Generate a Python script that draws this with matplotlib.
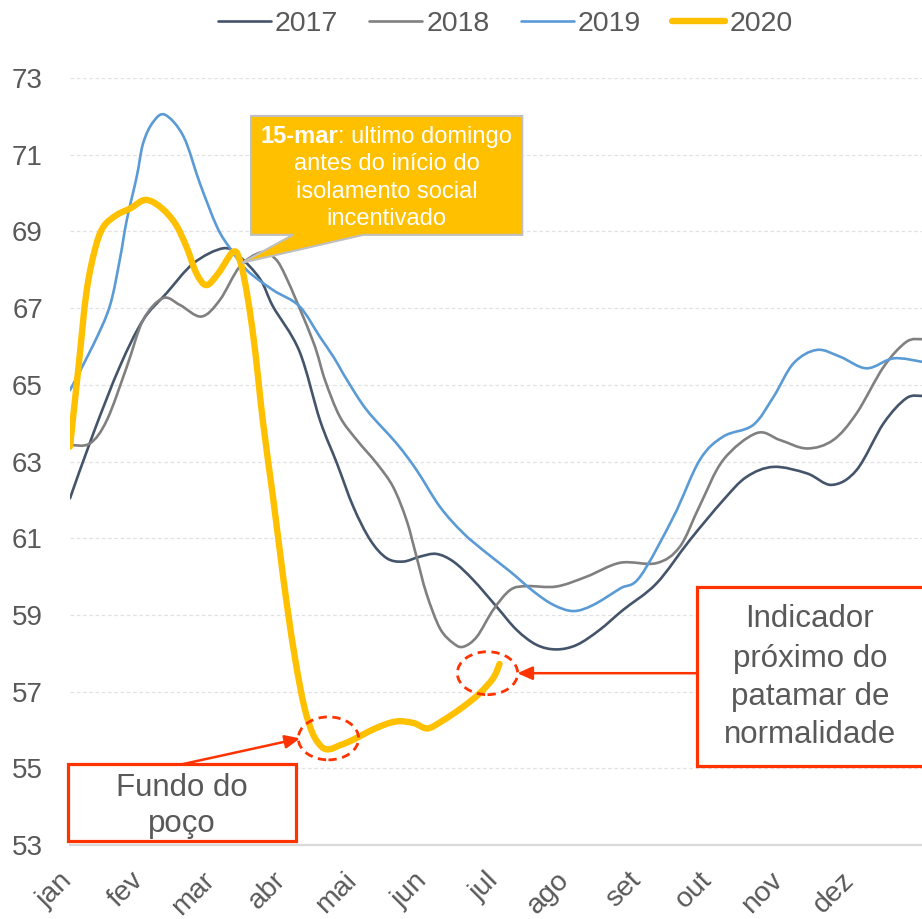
import matplotlib
matplotlib.use("Agg")
import matplotlib.pyplot as plt
import matplotlib.transforms as mtransforms
from matplotlib.patches import Polygon, Rectangle, Ellipse, PathPatch
from matplotlib.path import Path
from matplotlib.lines import Line2D

plt.rcParams['font.family'] = ['Liberation Sans', 'DejaVu Sans']

months = ['jan', 'fev', 'mar', 'abr', 'mai', 'jun', 'jul', 'ago', 'set', 'out', 'nov', 'dez']
y_ticks = [53, 55, 57, 59, 61, 63, 65, 67, 69, 71, 73]

# position in months (0 = start of jan) and index value
x_2017 = [0.00, 0.33, 0.70, 1.03, 1.36, 1.74, 2.16, 2.39, 2.68, 2.86, 3.23, 3.52, 3.76, 3.99,
          4.23, 4.46, 4.69, 4.93, 5.16, 5.40, 5.68, 6.01, 6.29, 6.57, 6.85, 7.14, 7.46, 7.79,
          8.26, 8.73, 9.20, 9.53, 9.91, 10.38, 10.73, 11.08, 11.46, 11.78, 12.0]
y_2017 = [62.04, 63.74, 65.47, 66.69, 67.39, 68.17, 68.56, 68.34, 67.75, 67.04, 65.88, 64.08, 62.95, 61.82,
          60.95, 60.48, 60.39, 60.52, 60.59, 60.39, 59.91, 59.21, 58.61, 58.22, 58.10, 58.22, 58.61, 59.13,
          59.82, 60.95, 61.99, 62.60, 62.86, 62.69, 62.39, 62.78, 64.00, 64.65, 64.71]

x_2018 = [0.00, 0.28, 0.52, 0.80, 1.03, 1.31, 1.55, 1.85, 2.11, 2.39, 2.68, 2.86, 3.03, 3.42, 3.59,
          3.80, 4.04, 4.32, 4.55, 4.74, 4.88, 5.02, 5.21, 5.40, 5.54, 5.73, 5.96, 6.20, 6.43, 6.85,
          7.28, 7.75, 8.26, 8.59, 8.87, 9.20, 9.67, 10.00, 10.38, 10.75, 11.08, 11.46, 11.78, 12.0]
y_2018 = [63.43, 63.47, 64.08, 65.47, 66.69, 67.26, 67.08, 66.78, 67.21, 68.08, 68.45, 68.34, 67.86, 66.15, 65.13,
          64.17, 63.56, 62.95, 62.34, 61.47, 60.52, 59.56, 58.65, 58.26, 58.17, 58.43, 59.13, 59.65, 59.75, 59.74,
          60.00, 60.36, 60.35, 60.78, 61.85, 63.04, 63.74, 63.56, 63.34, 63.56, 64.26, 65.47, 66.12, 66.19]

x_2019 = [0.00, 0.33, 0.56, 0.70, 0.80, 0.94, 1.03, 1.17, 1.34, 1.60, 1.83, 2.07, 2.25, 2.49, 2.86,
          3.23, 3.52, 3.72, 3.90, 4.18, 4.60, 4.88, 5.21, 5.54, 5.87, 6.20, 6.53, 6.81, 7.09, 7.37,
          7.75, 8.03, 8.50, 8.87, 9.20, 9.62, 9.91, 10.19, 10.52, 10.85, 11.22, 11.60, 12.0]
y_2019 = [64.86, 66.05, 67.05, 68.25, 69.30, 70.43, 71.30, 71.85, 72.04, 71.47, 70.25, 69.12, 68.57, 67.99, 67.47,
          67.05, 66.25, 65.70, 65.13, 64.34, 63.47, 62.78, 61.82, 61.13, 60.61, 60.13, 59.61, 59.26, 59.10, 59.26,
          59.69, 60.00, 61.56, 63.04, 63.65, 63.95, 64.69, 65.56, 65.91, 65.73, 65.43, 65.69, 65.60]

x_2020 = [0.00, 0.12, 0.23, 0.35, 0.47, 0.66, 0.85, 1.06, 1.27, 1.48, 1.64, 1.78, 1.92, 2.09, 2.30,
          2.40, 2.50, 2.60, 2.72, 2.85, 2.96, 3.06, 3.18, 3.30, 3.42, 3.55, 3.66, 3.80, 3.96, 4.30,
          4.59, 4.84, 5.03, 5.23, 5.52, 5.76, 5.96, 6.05]
y_2020 = [63.39, 65.47, 67.39, 68.52, 69.12, 69.43, 69.60, 69.82, 69.64, 69.21, 68.60, 67.91, 67.60, 67.91, 68.47,
          68.20, 67.30, 66.00, 64.00, 62.20, 60.60, 59.20, 57.75, 56.60, 55.90, 55.55, 55.50, 55.60, 55.72, 56.04,
          56.22, 56.18, 56.04, 56.22, 56.58, 56.94, 57.35, 57.72]

series = [
    ('2017', x_2017, y_2017, '#44546A', 1.9),
    ('2018', x_2018, y_2018, '#808080', 1.9),
    ('2019', x_2019, y_2019, '#5B9BD5', 1.9),
    ('2020', x_2020, y_2020, '#FFC000', 4.6),
]

TXT = '#595959'
RED = '#FF3300'


def smooth_path(xs, ys):
    """Smoothed line path (cubic Bezier through the points, like a spreadsheet smoothed line)."""
    pts = list(zip(xs, ys))
    n = len(pts)
    verts = [pts[0]]
    codes = [Path.MOVETO]
    for i in range(n - 1):
        p0 = pts[i - 1] if i > 0 else pts[i]
        p1 = pts[i]
        p2 = pts[i + 1]
        p3 = pts[i + 2] if i + 2 < n else pts[i + 1]
        c1 = (p1[0] + (p2[0] - p0[0]) / 6.0, p1[1] + (p2[1] - p0[1]) / 6.0)
        c2 = (p2[0] - (p3[0] - p1[0]) / 6.0, p2[1] - (p3[1] - p1[1]) / 6.0)
        verts += [c1, c2, p2]
        codes += [Path.CURVE4] * 3
    return Path(verts, codes)


fig = plt.figure(figsize=(9.22, 9.19), dpi=100)
ax = fig.add_axes([70 / 922, 74 / 919, 852 / 922, 767 / 919])

handles = []
for name, xs, ys, col, lw in series:
    ax.add_patch(PathPatch(smooth_path(xs, ys), facecolor='none', edgecolor=col, lw=lw,
                           capstyle='round', joinstyle='round', zorder=3))
    handles.append(Line2D([], [], color=col, lw=lw, solid_capstyle='round', label=name))

ax.set_xlim(0, 12)
ax.set_ylim(53, 73)
ax.set_yticks(y_ticks)
ax.set_yticklabels([str(v) for v in y_ticks])
ax.set_xticks(range(12))
ax.set_xticklabels(months, rotation=45, ha='right', va='top')
ax.tick_params(axis='y', length=0, pad=19.5, labelsize=20, labelcolor=TXT)
ax.tick_params(axis='x', length=0, pad=16, labelsize=20.5, labelcolor=TXT)
offset = mtransforms.ScaledTranslation(8 / 100, 0, fig.dpi_scale_trans)
for lbl in ax.get_xticklabels():
    lbl.set_transform(lbl.get_transform() + offset)
for s in ax.spines.values():
    s.set_visible(False)
for v in y_ticks[1:]:
    ax.axhline(v, color='#E2E2E2', lw=0.9, ls=(0, (3, 2)), zorder=1)
ax.axhline(53, color='#D9D9D9', lw=1.6, zorder=1, clip_on=False)

# legend
fig.legend(handles=handles, loc='center', bbox_to_anchor=(0.548, 0.974), ncol=4, frameon=False,
           fontsize=20.5, labelcolor=TXT, handlelength=1.85, handletextpad=0.15,
           columnspacing=1.1)

# callout box
bx0, bx1, by0, by1 = 2.55, 6.37, 68.91, 72.01
poly = [(bx0, by1), (bx1, by1), (bx1, by0), (4.13, by0), (2.42, 68.18), (3.14, by0), (bx0, by0)]
ax.add_patch(Polygon(poly, closed=True, facecolor='#FFC000', edgecolor='#BFBFBF', lw=1.5,
                     zorder=5, clip_on=False))
t1 = ax.text(2.68, 71.31, '15-mar', color='white', fontsize=17, fontweight='bold',
             ha='left', va='baseline', zorder=6)
ax.annotate(': ultimo domingo', xy=(1, 0), xycoords=t1, color='white', fontsize=17,
            ha='left', va='bottom', zorder=6)
for txt, yy in [('antes do início do', 70.59), ('isolamento social', 69.87), ('incentivado', 69.17)]:
    ax.text(4.46, yy, txt, color='white', fontsize=17, ha='center', va='baseline', zorder=6)

# red annotation boxes
ax.add_patch(Rectangle((-0.03, 53.1), 3.21, 2.01, facecolor='white', edgecolor=RED, lw=2.3,
                       zorder=5, clip_on=False))
ax.text(1.58, 54.28, 'Fundo do', color=TXT, fontsize=22.5, ha='center', va='baseline', zorder=6)
ax.text(1.58, 53.35, 'poço', color=TXT, fontsize=22.5, ha='center', va='baseline', zorder=6)

ax.add_patch(Rectangle((8.83, 55.07), 4.0, 4.67, facecolor='white', edgecolor=RED, lw=2.3,
                       zorder=5, clip_on=False))
for txt, yy in [('Indicador', 58.68), ('próximo do', 57.65), ('patamar de', 56.65), ('normalidade', 55.66)]:
    ax.text(10.42, yy, txt, color=TXT, fontsize=22.5, ha='center', va='baseline', zorder=6)

# dashed ellipses
for cx, cy in [(3.64, 55.78), (5.88, 57.48)]:
    ax.add_patch(Ellipse((cx, cy), 0.85, 1.12, facecolor='none', edgecolor=RED, lw=2.0,
                         ls=(0, (3, 2)), zorder=6))

# arrows
ax.annotate('', xy=(3.24, 55.78), xytext=(1.59, 55.11),
            arrowprops=dict(arrowstyle='-|>,head_length=0.9,head_width=0.4', color=RED, lw=1.8,
                            shrinkA=0, shrinkB=0), zorder=6)
ax.annotate('', xy=(6.30, 57.48), xytext=(8.83, 57.48),
            arrowprops=dict(arrowstyle='-|>,head_length=0.9,head_width=0.4', color=RED, lw=1.8,
                            shrinkA=0, shrinkB=0), zorder=6)

fig.savefig('out.png', dpi=100, facecolor='white')
